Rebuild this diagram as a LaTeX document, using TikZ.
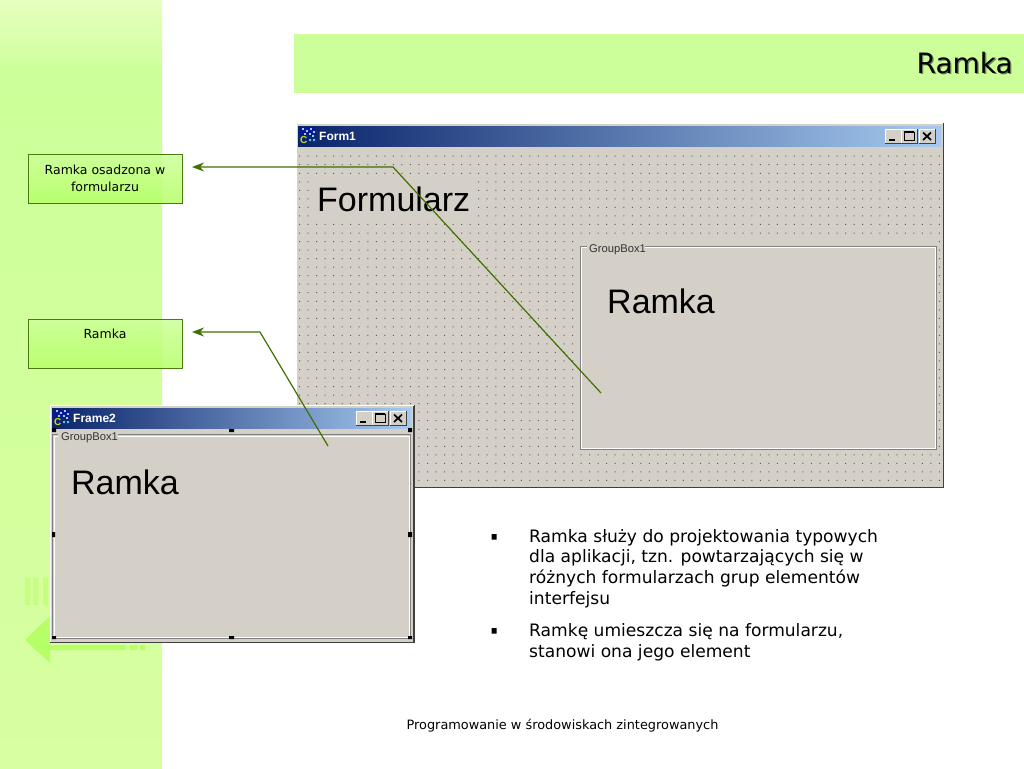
\documentclass[tikz,border=0pt]{standalone}
\usepackage{fontspec}
\setmainfont{DejaVu Sans}
\newfontfamily\winfont{Liberation Sans}
\usetikzlibrary{arrows.meta}
\definecolor{sidegreen}{HTML}{CCFF99}
\definecolor{sidetop}{HTML}{E6FFBE}
\definecolor{sidebot}{HTML}{D8FFA0}
\definecolor{decogreen}{HTML}{B6FF66}
\definecolor{decostripe}{HTML}{C4FF80}
\definecolor{linegreen}{HTML}{3F6F00}
\definecolor{boxedge}{HTML}{4A7A10}
\definecolor{wingrey}{HTML}{D4D0C8}
\definecolor{tbleft}{HTML}{0A246A}
\definecolor{tbright}{HTML}{A6CAF0}
\definecolor{windark}{HTML}{404040}
\definecolor{winmid}{HTML}{808080}
\definecolor{titleshadow}{HTML}{6E8A55}
\tikzset{
  callout/.style={draw=boxedge,line width=1pt,top color=sidegreen,bottom color=decogreen,fill opacity=.85,text opacity=1,
    minimum width=154pt,inner sep=0pt,font=\fontsize{12.5}{17}\selectfont,align=center,text=black},
  leader/.style={draw=linegreen,line width=1.2pt,-{Stealth[length=12pt,width=9pt]}},
  wintext/.style={font=\winfont\fontsize{11.2}{14}\selectfont,text=black!80,inner sep=0pt},
  bigtext/.style={font=\winfont\fontsize{34}{38}\selectfont,text=black,inner sep=0pt,anchor=base west},
  wintitle/.style={font=\winfont\bfseries\fontsize{12}{14}\selectfont,text=white,inner sep=0pt,anchor=base west},
  bullettext/.style={font=\fontsize{17.1}{20.6}\selectfont,align=left,anchor=north west,inner sep=0pt,text=black},
  handle/.style={fill=black,draw=none},
}
\newcommand{\winbutton}[3]{%
  \fill[wingrey] (#1,#2) rectangle ++(16,14);
  \draw[white,line width=.8pt] (#1,#2+14) -- (#1,#2) -- (#1+16,#2);
  \draw[windark,line width=.8pt] (#1+16,#2) -- (#1+16,#2+14) -- (#1,#2+14);
  \begin{scope}[shift={(#1,#2)}]#3\end{scope}}
\newcommand{\winicons}[2]{%
  \winbutton{#1}{#2}{\fill[black] (3.5,10) rectangle (10,12);}
  \winbutton{#1+16}{#2}{\draw[black,line width=1pt] (3,3) rectangle (13,11.5);\draw[black,line width=1.6pt] (3,3) -- (13,3);}
  \winbutton{#1+34}{#2}{\draw[black,line width=1.7pt] (4,3.5) -- (12,11) (12,3.5) -- (4,11);}}
\newcommand{\appicon}[2]{%
  \fill[tbleft!70!blue] (#1,#2) rectangle ++(15,9);
  \foreach \q/\r in {2/1,6/3,10/1,13/4,4/6,9/6,12/8}{\fill[tbright] (#1+\q,#2+\r) rectangle ++(1.6,1.6);}
  \node[font=\winfont\bfseries\fontsize{10}{10}\selectfont,text=yellow!80!green,inner sep=0pt,anchor=base west] at (#1,#2+16) {C};
  \fill[cyan!70] (#1+9,#2+12) rectangle ++(2,2) (#1+13,#2+12) rectangle ++(2,2);}
\begin{document}
\begin{tikzpicture}[x=1pt,y=-1pt]
\useasboundingbox (0,0) rectangle (1024,768);
\fill[white] (0,0) rectangle (1024,768);
% sidebar
\fill[top color=sidegreen,bottom color=sidebot] (0,65) rectangle (162,768);
\fill[top color=sidetop,bottom color=sidegreen!85!sidetop] (0,0) rectangle (162,65);
% faded decoration
\fill[decostripe] (25,578) rectangle (30,605) (33,578) rectangle (38,605) (43,578) rectangle (48,605);
\fill[decogreen] (25,640) -- (50,616) -- (50,645) -- (125,645) -- (125,650) -- (50,650) -- (50,663) -- cycle;
\fill[decogreen] (130,645) rectangle (137,650) (140,645) rectangle (145,650);
% title band
\fill[sidegreen] (294,34) rectangle (1024,93);
\node[font=\fontsize{28}{30}\selectfont,text=titleshadow,inner sep=0pt,anchor=base east] at (1014.3,74.3) {Ramka};
\node (title) [font=\fontsize{28}{30}\selectfont,text=black,inner sep=0pt,anchor=base east] at (1013,73) {Ramka};
% Form1 window
\fill[wingrey] (296,123) rectangle (943,487);
\draw[windark,line width=1pt] (943,123) -- (943,487) -- (296,487);
\draw[white,line width=1pt] (296,123) -- (296,487) (296,123) -- (943,123);
\shade[left color=tbleft,right color=tbright] (298,126) rectangle (941,146);
\appicon{300}{127}
\node[wintitle] at (319,140) {Form1};
\winicons{885}{129}
\begin{scope}
\foreach \ry in {0,...,38}{
  \fill[black!65] \foreach \cx in {0,...,75}{ (299+8.533*\cx,155.7+8.533*\ry) rectangle ++(1,1) };
}
\end{scope}
% label background behind Formularz
\fill[wingrey] (310,177) rectangle (472,219);
% form group box
\fill[wingrey] (576,236) rectangle (937.5,452);
\draw[winmid,line width=.8pt] (580.5,246.5) rectangle (936.5,449.5);
\draw[white,line width=.8pt] (581.5,247.5) -- (581.5,448.5) -- (935.5,448.5) -- (935.5,247.5) -- cycle;
\fill[wingrey] (587,240) rectangle (645,254);
\node[wintext,anchor=base west] at (589,252) {GroupBox1};
\node[bigtext] at (607,313) {Ramka};
\node[bigtext] at (317,211) {Formularz};
% Frame2 window
\fill[wingrey] (50,405) rectangle (414,642);
\draw[windark,line width=1.2pt] (414,405) -- (414,642.5) -- (50,642.5);
\draw[white,line width=1pt] (50,405) -- (50,642) (50,405) -- (414,405);
\shade[left color=tbleft,right color=tbright] (52,408) rectangle (411,428);
\appicon{54}{409}
\node[wintitle] at (73,422) {Frame2};
\winicons{356}{411}
\draw[winmid,line width=1.3pt] (52.5,434.5) rectangle (410.5,638);
\draw[white,line width=.8pt] (54,436) -- (54,637) -- (409,637) -- (409,436) -- cycle;
\fill[wingrey] (58,428.5) rectangle (118,442);
\node[wintext,anchor=base west] at (61,440) {GroupBox1};
\node[bigtext] at (71,494) {Ramka};
\fill[handle] (52,428) rectangle ++(4,4) (229,429) rectangle ++(5,3) (408,428) rectangle ++(4,4)
  (52,532) rectangle ++(3,5) (408,532) rectangle ++(4,5)
  (52,636) rectangle ++(4,3) (229,636) rectangle ++(5,3) (408,636) rectangle ++(4,3);
% callouts
\node (box1) [callout,minimum height=49pt] at (105,178.5) {Ramka osadzona w\\formularzu};
\node (box2) [callout,minimum height=49pt] at (105,343.5) {};
\node (box2label) [font=\fontsize{12.5}{17}\selectfont,text=black,inner sep=0pt,anchor=base] at (105,338) {Ramka};
% connectors
\coordinate (tipa) at ([xshift=9.5pt,yshift=11.5pt]box1.east);
\coordinate (benda) at (393,167);
\coordinate (starta) at (601,393);
\coordinate (tipb) at (192,332);
\coordinate (bendb) at (260,332);
\coordinate (startb) at (328,446);
\draw[leader] (starta) -- (benda) -- (tipa);
\draw[leader] (startb) -- (bendb) -- (tipb);
% bullets
\fill[black] (491.5,534) rectangle ++(5,5.5) (491.5,628) rectangle ++(5,5.5);
\node (para1) [bullettext] at (529,529) {Ramka służy do projektowania typowych\\dla aplikacji, tzn. powtarzających się w\\różnych formularzach grup elementów\\interfejsu};
\node (para2) [bullettext] at (529,623.5) {Ramkę umieszcza się na formularzu,\\stanowi ona jego element};
\node (foot) [font=\fontsize{12.87}{15}\selectfont,text=black,inner sep=0pt,anchor=base] at (562.5,729) {Programowanie w środowiskach zintegrowanych};
\end{tikzpicture}
\end{document}
